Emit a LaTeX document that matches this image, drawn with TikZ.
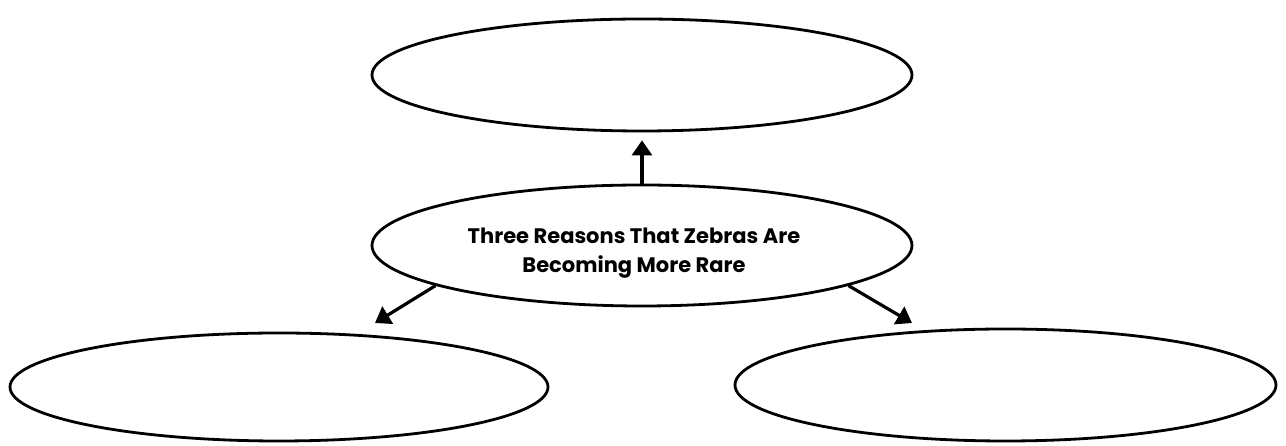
\documentclass[tikz,border=0pt]{standalone}
\usepackage{fontspec}
\setmainfont{Poppins}
\usetikzlibrary{shapes.geometric,arrows.meta}
\begin{document}
\begin{tikzpicture}[x=1pt,y=1pt,
  oval/.style={draw=black,line width=2.8pt,ellipse,inner sep=0pt,fill=white},
  conn/.style={line width=3.2pt,-{Triangle[width=20pt,length=15pt]}},
  title/.style={font=\bfseries\fontsize{21}{29}\selectfont,align=center,inner sep=0pt}]
\useasboundingbox (0,0) rectangle (1286,446);
\node[oval,minimum width=540pt,minimum height=112pt] (top) at (642,371) {};
\node[oval,minimum width=540pt,minimum height=121pt] (mid) at (642,200.5) {};
\node[title] (midtext) at ([xshift=-8pt,yshift=-8pt]mid.center)
  {Three Reasons That Zebras Are\\Becoming More Rare};
\node[oval,minimum width=538pt,minimum height=108pt] (bl) at (279,59) {};
\node[oval,minimum width=541pt,minimum height=112pt] (br) at (1005.5,61) {};
\coordinate (tl) at (375,123);
\coordinate (tr) at (912,123);
\draw[conn,shorten >=8pt] (mid.north) -- (top.south);
\draw[conn] (mid.191) -- (tl);
\draw[conn] (mid.-11) -- (tr);
\end{tikzpicture}
\end{document}
